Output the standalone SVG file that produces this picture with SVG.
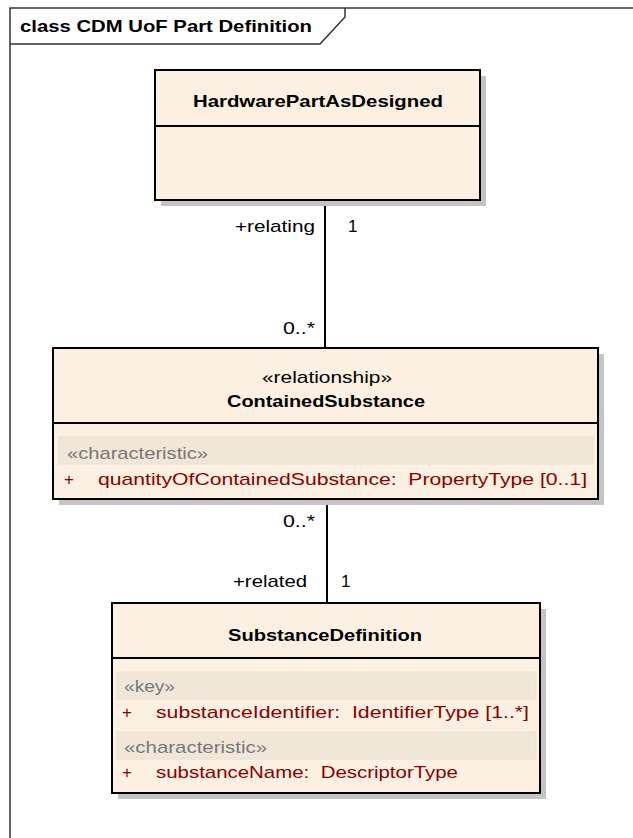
<svg xmlns="http://www.w3.org/2000/svg" width="633" height="838" viewBox="0 0 633 838">
<style>
text{font-family:"Liberation Sans",Arial,sans-serif;font-size:17px;fill:#000;white-space:pre}
.b{font-weight:bold}
.st{fill:#777}
.at{fill:#8b0000}
.box{fill:#fbf0e2;stroke:#000;stroke-width:2}
.sh{fill:#c4c4c4}
.band{fill:#f1e7d9;stroke:#ebe1d3;stroke-width:1}
.ln{stroke:#000;stroke-width:2;fill:none}
</style>
<rect width="633" height="838" fill="#fff"/>
<g id="frame">
<path d="M10,838 V8 H633" fill="none" stroke="#333" stroke-width="1.5"/>
<path d="M10,44 H320 L345,17 V8" fill="none" stroke="#333" stroke-width="1.5"/>
<text class="b" x="20" y="32" textLength="292" lengthAdjust="spacingAndGlyphs">class CDM UoF Part Definition</text>
</g>
<g id="connectors">
<line class="ln" x1="325" y1="200" x2="325" y2="348"/>
<line class="ln" x1="327" y1="499" x2="327" y2="603"/>
<text x="235" y="232" textLength="80" lengthAdjust="spacingAndGlyphs">+relating</text>
<text x="348" y="232">1</text>
<text x="283" y="334" textLength="32" lengthAdjust="spacingAndGlyphs">0..*</text>
<text x="283" y="527" textLength="32" lengthAdjust="spacingAndGlyphs">0..*</text>
<text x="233" y="587" textLength="74" lengthAdjust="spacingAndGlyphs">+related</text>
<text x="341" y="587">1</text>
</g>
<g id="HardwarePartAsDesigned">
<rect class="sh" x="161" y="76" width="325" height="130"/>
<rect class="box" x="155" y="70" width="325" height="130"/>
<line class="ln" x1="155" y1="126" x2="480" y2="126"/>
<text class="b" x="193" y="107" textLength="250" lengthAdjust="spacingAndGlyphs">HardwarePartAsDesigned</text>
</g>
<g id="ContainedSubstance">
<rect class="sh" x="59" y="354" width="545" height="151"/>
<rect class="box" x="53" y="348" width="545" height="151"/>
<line class="ln" x1="53" y1="423" x2="598" y2="423"/>
<text x="262" y="383" textLength="130" lengthAdjust="spacingAndGlyphs">«relationship»</text>
<text class="b" x="227" y="407" textLength="198" lengthAdjust="spacingAndGlyphs">ContainedSubstance</text>
<rect class="band" x="59" y="437" width="534" height="27"/>
<text class="st" x="67" y="459" textLength="141" lengthAdjust="spacingAndGlyphs">«characteristic»</text>
<text class="at" x="64" y="485">+</text>
<text class="at" x="98" y="485" textLength="489" lengthAdjust="spacingAndGlyphs">quantityOfContainedSubstance:  PropertyType [0..1]</text>
</g>
<g id="SubstanceDefinition">
<rect class="sh" x="118" y="609" width="428" height="190"/>
<rect class="box" x="112" y="603" width="428" height="190"/>
<line class="ln" x1="112" y1="658" x2="540" y2="658"/>
<text class="b" x="228" y="641" textLength="194" lengthAdjust="spacingAndGlyphs">SubstanceDefinition</text>
<rect class="band" x="117" y="672" width="419" height="27"/>
<text class="st" x="124" y="692" textLength="51" lengthAdjust="spacingAndGlyphs">«key»</text>
<text class="at" x="122" y="718">+</text>
<text class="at" x="156" y="718" textLength="373" lengthAdjust="spacingAndGlyphs">substanceIdentifier:  IdentifierType [1..*]</text>
<rect class="band" x="117" y="732" width="419" height="27"/>
<text class="st" x="124" y="753" textLength="143" lengthAdjust="spacingAndGlyphs">«characteristic»</text>
<text class="at" x="122" y="778">+</text>
<text class="at" x="156" y="778" textLength="302" lengthAdjust="spacingAndGlyphs">substanceName:  DescriptorType</text>
</g>
</svg>
